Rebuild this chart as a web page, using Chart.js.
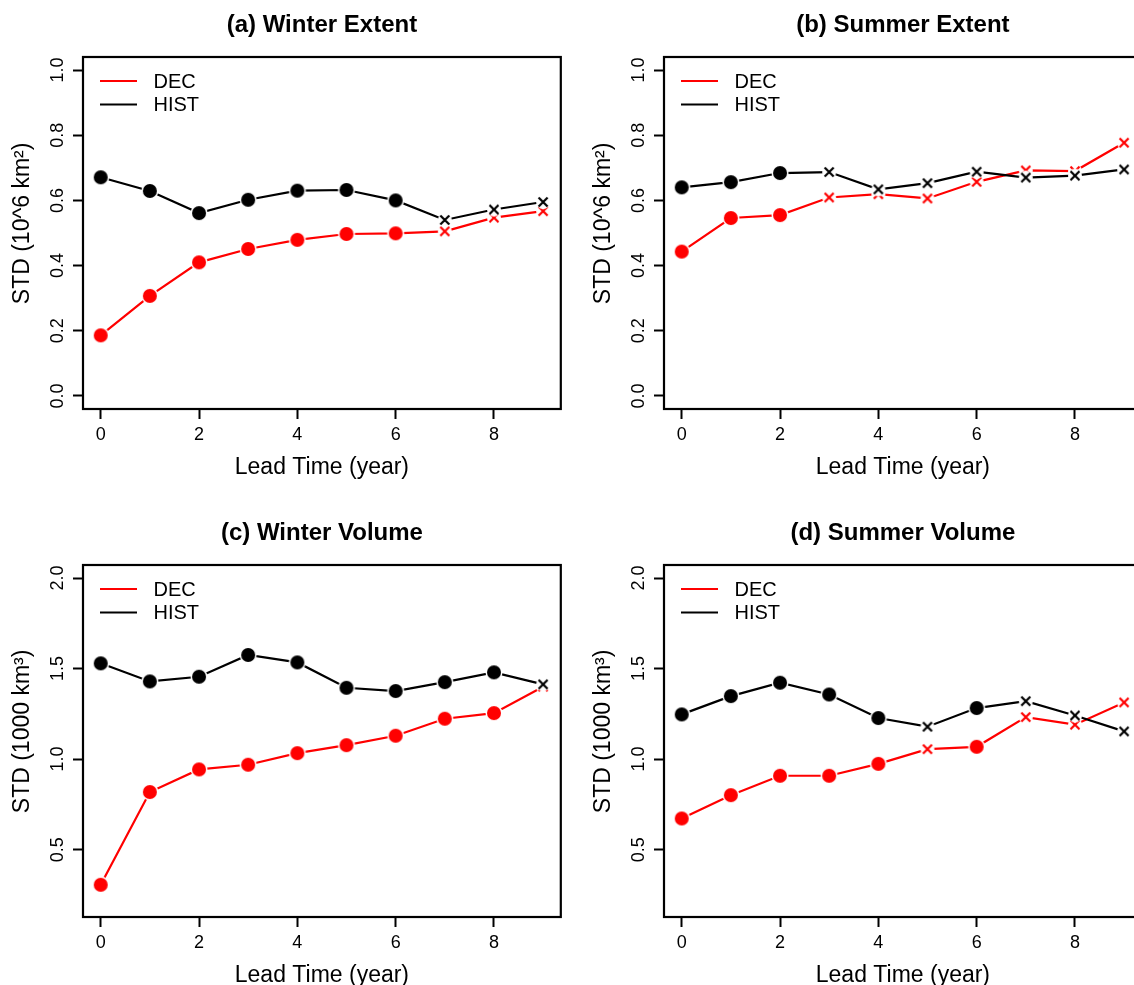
<!DOCTYPE html>
<html>
<head>
<meta charset="utf-8">
<title>STD vs lead time</title>
<script src="https://cdn.jsdelivr.net/npm/chart.js@4.4.1/dist/chart.umd.min.js"></script>
<style>
  html, body { margin: 0; padding: 0; background: #fff; overflow: hidden; }
  #page { position: relative; width: 1134px; height: 985px; overflow: hidden; background: #fff; }
  .panel { position: absolute; width: 570px; height: 481px; }
</style>
</head>
<body>
<div id="page">
  <div class="panel" style="left:0;top:0"><canvas id="chartA" width="570" height="481"></canvas></div>
  <div class="panel" style="left:581px;top:0"><canvas id="chartB" width="570" height="481"></canvas></div>
  <div class="panel" style="left:0;top:508px"><canvas id="chartC" width="570" height="481"></canvas></div>
  <div class="panel" style="left:581px;top:508px"><canvas id="chartD" width="570" height="481"></canvas></div>
</div>
<script>
// ---- data ----
const leadYears = [0, 1, 2, 3, 4, 5, 6, 7, 8, 9];
const xTickValues = [0, 2, 4, 6, 8];
const extentTicks = [0, 0.2, 0.4, 0.6, 0.8, 1.0];
const volumeTicks = [0.5, 1.0, 1.5, 2.0];
const seriesNames = ["DEC", "HIST"];

const winterExtentDEC  = [0.186, 0.307, 0.410, 0.451, 0.479, 0.497, 0.499, 0.505, 0.547, 0.567];
const winterExtentHIST = [0.671, 0.629, 0.561, 0.602, 0.630, 0.632, 0.600, 0.540, 0.572, 0.595];
const summerExtentDEC  = [0.443, 0.546, 0.555, 0.609, 0.619, 0.606, 0.657, 0.692, 0.690, 0.777];
const summerExtentHIST = [0.640, 0.656, 0.684, 0.687, 0.634, 0.653, 0.688, 0.670, 0.676, 0.695];
const winterVolumeDEC  = [0.306, 0.818, 0.943, 0.969, 1.033, 1.077, 1.129, 1.223, 1.254, 1.400];
const winterVolumeHIST = [1.529, 1.429, 1.455, 1.575, 1.534, 1.394, 1.376, 1.425, 1.479, 1.413];
const summerVolumeDEC  = [0.672, 0.801, 0.908, 0.908, 0.974, 1.055, 1.068, 1.232, 1.190, 1.313];
const summerVolumeHIST = [1.247, 1.348, 1.422, 1.357, 1.227, 1.179, 1.282, 1.320, 1.241, 1.153];

// 1 = filled dot, 0 = cross (same for both series in each panel)
const winterExtentSig = [1, 1, 1, 1, 1, 1, 1, 0, 0, 0];
const summerExtentSig = [1, 1, 1, 0, 0, 0, 0, 0, 0, 0];
const winterVolumeSig = [1, 1, 1, 1, 1, 1, 1, 1, 1, 0];
const summerVolumeSig = [1, 1, 1, 1, 1, 0, 1, 0, 0, 0];

// ---- styling ----
const FONT = "'Liberation Sans', Arial, Helvetica, sans-serif";
const RED = "#ff0000";
const BLACK = "#000000";
Chart.defaults.font.family = FONT;
Chart.defaults.color = "#000";

// marker images with a white halo, so the line stops short of the point (R type="b")
function makeMarker(kind, color) {
  const c = document.createElement("canvas");
  c.width = 24; c.height = 24;
  const g = c.getContext("2d");
  g.fillStyle = "#fff";
  g.beginPath();
  g.arc(12, 12, kind === "dot" ? 8.5 : 7, 0, Math.PI * 2);
  g.fill();
  if (kind === "dot") {
    g.fillStyle = color;
    g.beginPath();
    g.arc(12, 12, 7, 0, Math.PI * 2);
    g.fill();
  } else {
    g.strokeStyle = color;
    g.lineWidth = 2.2;
    g.beginPath();
    g.moveTo(7.5, 7.5); g.lineTo(16.5, 16.5);
    g.moveTo(16.5, 7.5); g.lineTo(7.5, 16.5);
    g.stroke();
  }
  return c;
}
const markers = {
  [RED]: { dot: makeMarker("dot", RED), cross: makeMarker("cross", RED) },
  [BLACK]: { dot: makeMarker("dot", BLACK), cross: makeMarker("cross", BLACK) }
};

// box around the plot region
const boxPlugin = {
  id: "rbox",
  afterDraw(chart) {
    const { ctx, chartArea: a } = chart;
    ctx.save();
    ctx.strokeStyle = "#000";
    ctx.lineWidth = 2.2;
    ctx.strokeRect(a.left, a.top, a.right - a.left, a.bottom - a.top);
    ctx.restore();
  }
};

// panel title centred on the plot region
const titlePlugin = {
  id: "panelTitle",
  afterDraw(chart, args, opts) {
    const { ctx, chartArea: a } = chart;
    ctx.save();
    ctx.font = "bold 24px " + FONT;
    ctx.fillStyle = "#000";
    ctx.textAlign = "center";
    ctx.textBaseline = "middle";
    ctx.fillText(opts.text, (a.left + a.right) / 2, 25.5);
    ctx.restore();
  }
};

// R-style legend (lines only, no frame) in the top-left corner
const legendPlugin = {
  id: "rlegend",
  afterDraw(chart) {
    const { ctx, chartArea: a } = chart;
    ctx.save();
    ctx.font = "20px " + FONT;
    ctx.textBaseline = "middle";
    ctx.textAlign = "left";
    chart.data.datasets.forEach((ds, i) => {
      const y = a.top + 24 + i * 23.5;
      ctx.strokeStyle = ds.borderColor;
      ctx.lineWidth = 2;
      ctx.beginPath();
      ctx.moveTo(a.left + 17, y);
      ctx.lineTo(a.left + 54, y);
      ctx.stroke();
      ctx.fillStyle = "#000";
      ctx.fillText(ds.label, a.left + 70.5, y + 1);
    });
    ctx.restore();
  }
};

function series(label, color, values, sig, order) {
  return {
    label: label,
    data: leadYears.map((t, i) => ({ x: t, y: values[i] })),
    borderColor: color,
    backgroundColor: color,
    borderWidth: 2.2,
    tension: 0,
    fill: false,
    order: order,
    pointRadius: 7,
    pointHoverRadius: 7,
    pointStyle: sig.map(s => (s ? markers[color].dot : markers[color].cross))
  };
}

function makePanel(id, title, yTitle, yTicks, yLo, yHi, dec, hist, sig) {
  const pad = (yHi - yLo) * 0.04;
  const xPad = (leadYears[leadYears.length - 1] - leadYears[0]) * 0.04;
  const tickFont = () => ({ family: FONT, size: 18 });
  new Chart(document.getElementById(id), {
    type: "line",
    data: {
      datasets: [
        series(seriesNames[0], RED, dec, sig, 1),
        series(seriesNames[1], BLACK, hist, sig, 0)
      ]
    },
    options: {
      responsive: false,
      animation: false,
      events: [],
      layout: { padding: { top: 57, right: 6, bottom: 0, left: 0 } },
      plugins: {
        legend: { display: false },
        tooltip: { enabled: false },
        panelTitle: { text: title }
      },
      scales: {
        x: {
          type: "linear",
          min: leadYears[0] - xPad,
          max: leadYears[leadYears.length - 1] + xPad,
          afterBuildTicks: s => { s.ticks = xTickValues.map(v => ({ value: v })); },
          afterFit: s => { s.height = 72; },
          border: { display: false },
          grid: { drawOnChartArea: false, tickLength: 10, tickColor: "#000", tickWidth: 2 },
          ticks: {
            autoSkip: false, maxRotation: 0, padding: 5, color: "#000",
            font: tickFont,
            callback: v => String(v)
          },
          title: {
            display: true, text: "Lead Time (year)", color: "#000",
            font: { family: FONT, size: 23 }, padding: { top: 0, bottom: 0 }
          }
        },
        y: {
          type: "linear",
          min: yLo - pad,
          max: yHi + pad,
          afterBuildTicks: s => { s.ticks = yTicks.map(v => ({ value: v })); },
          afterFit: s => { s.width = 83; },
          border: { display: false },
          grid: { drawOnChartArea: false, tickLength: 10, tickColor: "#000", tickWidth: 2 },
          ticks: {
            autoSkip: false, minRotation: 90, maxRotation: 90, crossAlign: "center",
            padding: 2.5, color: "#000",
            font: tickFont,
            callback: v => v.toFixed(1)
          },
          title: {
            display: true, text: "   " + yTitle, color: "#000",
            font: { family: FONT, size: 23 }, padding: { top: 9, bottom: 0 }
          }
        }
      }
    },
    plugins: [boxPlugin, titlePlugin, legendPlugin]
  });
}

makePanel("chartA", "(a) Winter Extent", "STD (10^6 km\u00B2)", extentTicks, 0, 1, winterExtentDEC, winterExtentHIST, winterExtentSig);
makePanel("chartB", "(b) Summer Extent", "STD (10^6 km\u00B2)", extentTicks, 0, 1, summerExtentDEC, summerExtentHIST, summerExtentSig);
makePanel("chartC", "(c) Winter Volume", "STD (1000 km\u00B3)", volumeTicks, 0.2, 2.0, winterVolumeDEC, winterVolumeHIST, winterVolumeSig);
makePanel("chartD", "(d) Summer Volume", "STD (1000 km\u00B3)", volumeTicks, 0.2, 2.0, summerVolumeDEC, summerVolumeHIST, summerVolumeSig);
</script>
</body>
</html>
